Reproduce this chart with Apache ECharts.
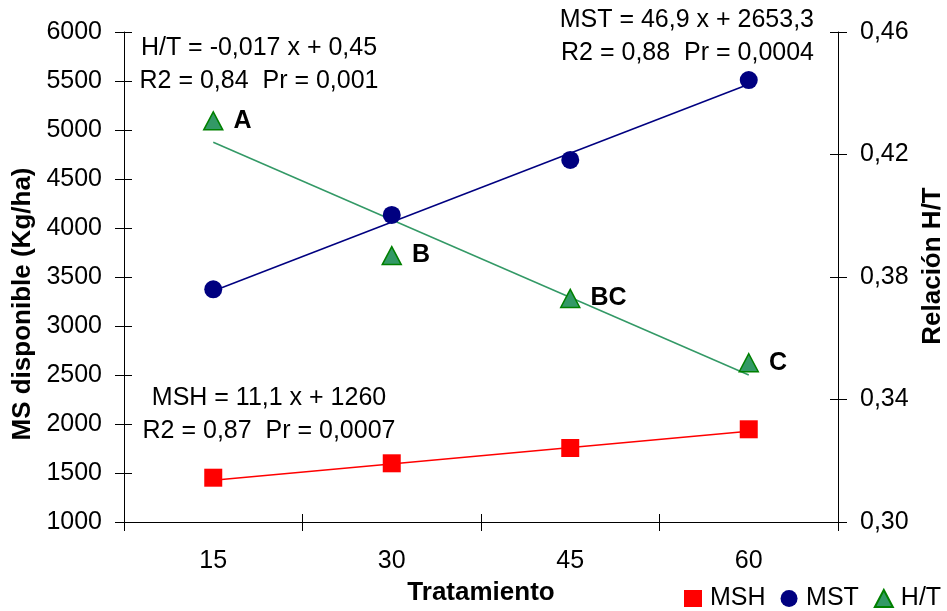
<!DOCTYPE html>
<html>
<head>
<meta charset="utf-8">
<script src="https://cdn.jsdelivr.net/npm/echarts@6/dist/echarts.min.js"></script>
<style>
html,body{margin:0;padding:0;background:#fff;}
#chart{width:947px;height:611px;}
</style>
</head>
<body>
<div id="chart"></div>
<script>
// ---- data ----
const categories = ['15', '30', '45', '60'];
const mshValues = [1452, 1599, 1755, 1946];
const mstValues = [3374, 4133, 4694, 5510];
const htValues = [0.431, 0.387, 0.373, 0.352];
const htLetters = ['A', 'B', 'BC', 'C'];
// fitted trend lines: start and end values (straight line between them)
const mshTrend = [1427, null, null, 1926];
const mstTrend = [3357, null, null, 5467];
const htTrend = [0.424, null, null, 0.348];
const leftTicks = {min: 1000, max: 6000, interval: 500};
const rightTicks = {min: 0.30, max: 0.46, interval: 0.04};
const equations = {
  ht: ['H/T = -0,017 x + 0,45', 'R2 = 0,84  Pr = 0,001'],
  mst: ['MST = 46,9 x + 2653,3', 'R2 = 0,88  Pr = 0,0004'],
  msh: ['MSH = 11,1 x + 1260', 'R2 = 0,87  Pr = 0,0007']
};

const FONT = '"Liberation Sans", Arial, sans-serif';
const FS = 25;
const chart = echarts.init(document.getElementById('chart'));
const axisBlack = {lineStyle: {color: '#000', width: 1}};
const tickOut = {show: true, inside: false, length: 9, lineStyle: {color: '#000'}};
const tickIn = {show: true, inside: true, length: 8, lineStyle: {color: '#000'}};
const labelStyle = {color: '#000', fontSize: FS, fontFamily: FONT};
const comma = v => v.toFixed(2).replace('.', ',');

function eqText(lines, x, y, align) {
  return lines.map((t, i) => ({
    type: 'text', x: x, y: y + i * 33,
    style: {text: t, fill: '#000', font: FS + 'px ' + FONT, textAlign: align, textVerticalAlign: 'middle'}
  }));
}

const option = {
  animation: false,
  backgroundColor: '#fff',
  grid: {left: 124, right: 109, top: 32, bottom: 89, containLabel: false, outerBoundsMode: 'none'},
  legend: {
    left: 684, top: 586, padding: 0, width: 400,
    itemWidth: 18, itemHeight: 17, itemGap: 15,
    textStyle: {color: '#000', fontSize: FS, fontFamily: FONT, padding: [0, 0, 0, 3]},
    data: [
      {name: 'MSH', icon: 'rect'},
      {name: 'MST', icon: 'circle'},
      {name: 'H/T', icon: 'triangle'}
    ]
  },
  xAxis: [
    {
      type: 'category', data: categories, boundaryGap: true,
      name: 'Tratamiento', nameLocation: 'middle', nameGap: 58,
      nameTextStyle: {color: '#000', fontSize: 26, fontWeight: 'bold', fontFamily: FONT},
      axisLine: axisBlack, axisTick: tickOut,
      axisLabel: Object.assign({margin: 27}, labelStyle),
      splitLine: {show: false}
    },
    {
      type: 'category', data: categories, boundaryGap: true, position: 'bottom',
      axisLine: {show: false}, axisTick: tickIn, axisLabel: {show: false}, splitLine: {show: false}
    }
  ],
  yAxis: [
    Object.assign({
      type: 'value', position: 'left',
      name: 'MS disponible (Kg/ha)', nameLocation: 'middle', nameGap: 82, nameRotate: 90,
      nameTextStyle: {color: '#000', fontSize: 26, fontWeight: 'bold', fontFamily: FONT, padding: [0, 54, 0, 0]},
      axisLine: Object.assign({show: true}, axisBlack), axisTick: tickOut,
      axisLabel: Object.assign({margin: 22, formatter: v => String(v)}, labelStyle),
      splitLine: {show: false}
    }, leftTicks),
    Object.assign({
      type: 'value', position: 'right',
      name: 'Relación H/T', nameLocation: 'middle', nameGap: 79, nameRotate: 90,
      nameTextStyle: {color: '#000', fontSize: 26, fontWeight: 'bold', fontFamily: FONT, padding: [0, 0, 0, 22]},
      axisLine: Object.assign({show: true}, axisBlack), axisTick: tickOut,
      axisLabel: Object.assign({margin: 22, formatter: comma}, labelStyle),
      splitLine: {show: false}
    }, rightTicks),
    Object.assign({
      type: 'value', position: 'left',
      axisLine: {show: false}, axisTick: tickIn, axisLabel: {show: false}, splitLine: {show: false}
    }, leftTicks),
    Object.assign({
      type: 'value', position: 'right',
      axisLine: {show: false}, axisTick: tickIn, axisLabel: {show: false}, splitLine: {show: false}
    }, rightTicks)
  ],
  series: [
    {name: 'MSH trend', type: 'line', data: mshTrend, connectNulls: true, symbol: 'none',
     yAxisIndex: 0, lineStyle: {color: '#ff0000', width: 1.5}, silent: true, z: 1},
    {name: 'MST trend', type: 'line', data: mstTrend, connectNulls: true, symbol: 'none',
     yAxisIndex: 0, lineStyle: {color: '#000080', width: 1.5}, silent: true, z: 1},
    {name: 'H/T trend', type: 'line', data: htTrend, connectNulls: true, symbol: 'none',
     yAxisIndex: 1, lineStyle: {color: '#339966', width: 1.5}, silent: true, z: 1},
    {name: 'MSH', type: 'line', data: mshValues, yAxisIndex: 0,
     symbol: 'rect', symbolSize: 18, lineStyle: {width: 0, opacity: 0},
     itemStyle: {color: '#ff0000'}, z: 3},
    {name: 'MST', type: 'line', data: mstValues, yAxisIndex: 0,
     symbol: 'circle', symbolSize: 18, lineStyle: {width: 0, opacity: 0},
     itemStyle: {color: '#000080'}, z: 3},
    {name: 'H/T', type: 'line', data: htValues, yAxisIndex: 1,
     symbol: 'triangle', symbolSize: [19, 18], lineStyle: {width: 0, opacity: 0},
     itemStyle: {color: '#339966', borderColor: '#008000', borderWidth: 1.5}, z: 3,
     label: {show: true, position: 'right', distance: 10,
             formatter: p => htLetters[p.dataIndex],
             color: '#000', fontSize: FS, fontWeight: 'bold', fontFamily: FONT}}
  ],
  graphic: [].concat(
    eqText(equations.ht, 259, 48, 'center'),
    eqText(equations.mst, 814, 20, 'right'),
    eqText(equations.msh, 269, 398, 'center')
  )
};
chart.setOption(option);
</script>
</body>
</html>
